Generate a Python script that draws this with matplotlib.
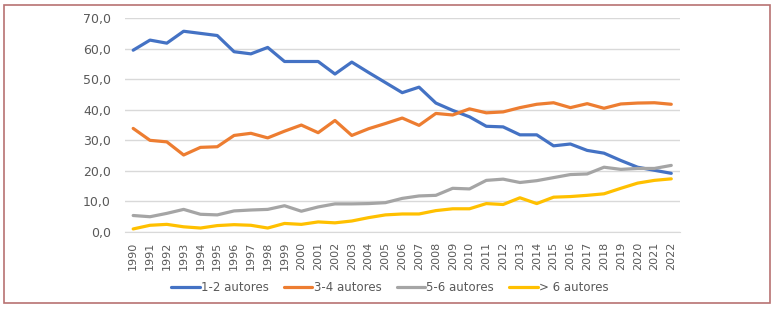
import matplotlib
matplotlib.use("Agg")
import matplotlib.pyplot as plt
from matplotlib.patches import Rectangle
import numpy as np

years = list(range(1990, 2023))

autores_1_2 = [59.5, 62.8, 61.8, 65.7, 65.0, 64.3, 59.0, 58.3, 60.4, 55.8, 55.8,
               55.8, 51.7, 55.6, 52.2, 48.9, 45.6, 47.4, 42.2, 39.8, 37.7, 34.6,
               34.4, 31.8, 31.8, 28.2, 28.8, 26.7, 25.8, 23.4, 21.2, 20.2, 19.2]
autores_3_4 = [33.9, 30.0, 29.5, 25.2, 27.7, 27.9, 31.6, 32.3, 30.8, 33.0, 35.0,
               32.5, 36.5, 31.6, 33.8, 35.5, 37.3, 34.9, 38.8, 38.3, 40.3, 39.0,
               39.3, 40.7, 41.8, 42.3, 40.7, 42.0, 40.5, 41.9, 42.2, 42.3, 41.8]
autores_5_6 = [5.4, 5.0, 6.1, 7.4, 5.8, 5.6, 6.9, 7.2, 7.4, 8.6, 6.8,
               8.2, 9.2, 9.2, 9.3, 9.6, 11.0, 11.8, 12.0, 14.3, 14.1, 16.9,
               17.3, 16.2, 16.8, 17.8, 18.8, 19.0, 21.2, 20.5, 20.8, 20.8, 21.8]
autores_mas_6 = [1.0, 2.2, 2.5, 1.7, 1.3, 2.1, 2.4, 2.2, 1.3, 2.8, 2.5,
                 3.3, 3.0, 3.6, 4.7, 5.6, 5.9, 5.9, 7.0, 7.6, 7.6, 9.3,
                 9.0, 11.2, 9.3, 11.4, 11.6, 12.0, 12.5, 14.3, 16.0, 16.9, 17.4]

series = [("1-2 autores", autores_1_2, "#4472C4"),
          ("3-4 autores", autores_3_4, "#ED7D31"),
          ("5-6 autores", autores_5_6, "#A5A5A5"),
          ("> 6 autores", autores_mas_6, "#FFC000")]

fig = plt.figure(figsize=(7.75, 3.1), dpi=100)
ax = fig.add_axes([0.161, 0.2516, 0.716, 0.690])

x = np.arange(len(years))
for name, vals, col in series:
    ax.plot(x, vals, color=col, lw=2.3, label=name, solid_capstyle="round")

ax.set_xlim(-0.5, len(years) - 0.5)
ax.set_ylim(0, 70)
ax.set_yticks(np.arange(0, 71, 10))
ax.set_yticklabels([f"{v:.1f}".replace(".", ",") for v in np.arange(0, 71, 10)])
ax.set_xticks(x)
ax.set_xticklabels([str(y) for y in years], rotation=90)
ax.tick_params(axis="both", length=0, colors="#595959")
ax.tick_params(axis="y", pad=10, labelsize=9)
ax.tick_params(axis="x", pad=7, labelsize=8)
ax.grid(axis="y", color="#D9D9D9", lw=1)
ax.set_axisbelow(True)
for s in ["top", "right", "left"]:
    ax.spines[s].set_visible(False)
ax.spines["bottom"].set_color("#D9D9D9")

leg = fig.legend(loc="center", bbox_to_anchor=(0.503, 0.071), ncol=4, frameon=False,
                 fontsize=8.5, handlelength=2.4, handletextpad=0.1, columnspacing=1.3)
for t in leg.get_texts():
    t.set_color("#595959")

fig.patches.append(Rectangle((4 / 775, 1 - 303 / 310), 766 / 775, 298 / 310,
                             transform=fig.transFigure, fill=False,
                             edgecolor="#B87272", lw=1.2))

fig.savefig("out.png", dpi=100)
